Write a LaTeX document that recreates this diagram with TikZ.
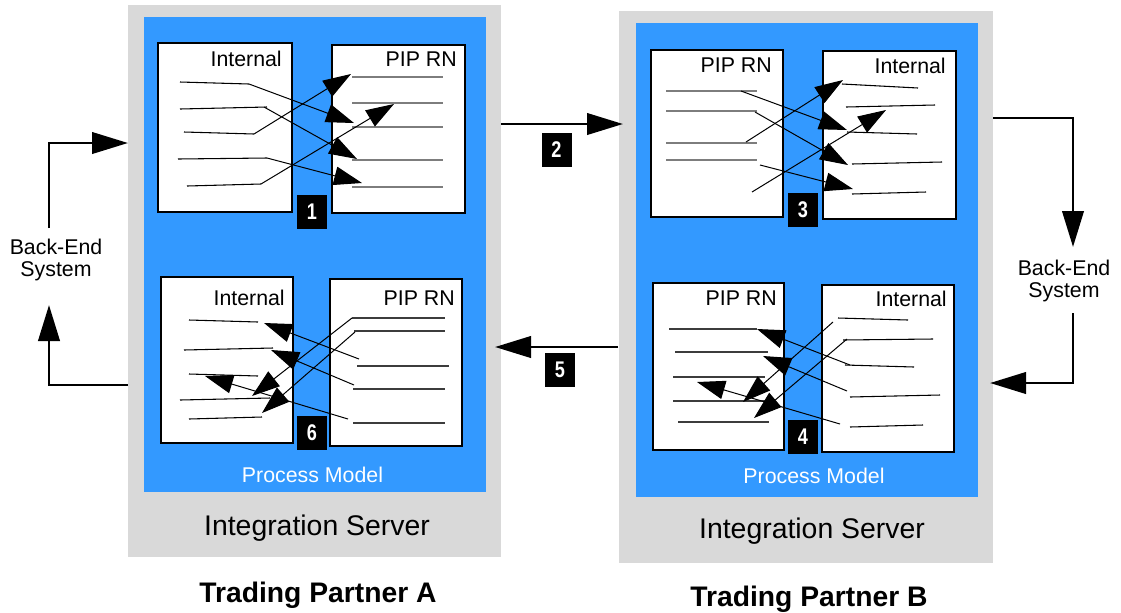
\documentclass[tikz,border=0pt]{standalone}
\usepackage{fontspec}
\setmainfont{Liberation Sans}
\newfontfamily\numfont[FakeStretch=0.8]{Liberation Sans}
\usetikzlibrary{arrows.meta}
\definecolor{srvgray}{RGB}{217,217,217}
\definecolor{pmblue}{RGB}{51,153,255}
\definecolor{pipgray}{RGB}{125,125,125}
\definecolor{darkline}{RGB}{60,60,60}
\tikzset{
  server/.style={fill=srvgray},
  model/.style={fill=pmblue},
  doc/.style={fill=white, draw=black, line width=1.5pt},
  dl/.style={line width=0.8pt, black},
  pl/.style={line width=0.8pt, pipgray},
  ql/.style={line width=0.8pt, darkline},
  arr/.style={line width=0.75pt, -{Triangle[length=21pt,width=14pt]}},
  big/.style={line width=2.2pt, -{Triangle[length=27pt,width=16pt]}},
  num/.style={fill=black, text=white, minimum width=22.5pt, minimum height=25.5pt, inner sep=0pt,
              font=\numfont\bfseries\fontsize{17}{17}\selectfont},
  lbl/.style={inner sep=0pt, anchor=base east, font=\fontsize{16}{18}\selectfont},
  pm/.style={inner sep=0pt, anchor=base, text=white, font=\fontsize{16}{18}\selectfont},
  srvlbl/.style={inner sep=0pt, anchor=base, font=\fontsize{21.3}{24}\selectfont},
  tp/.style={inner sep=0pt, anchor=base, font=\bfseries\fontsize{21.2}{24}\selectfont},
  be/.style={inner sep=0pt, align=center, font=\fontsize{16}{16.5}\selectfont}
}
\begin{document}
\begin{tikzpicture}[x=0.75pt,y=-0.75pt]
\useasboundingbox (0,0) rectangle (1121,612);
% servers and process models
\path[server] (128,5) rectangle (501,557);
\path[server] (619,11) rectangle (993,563);
\path[model] (144,17) rectangle (486,492);
\path[model] (636,23) rectangle (978,497);
\node[srvlbl] (isA) at (317,535) {Integration Server};
\node[srvlbl] (isB) at (812,538) {Integration Server};
\node[pm] (pmA) at (312.5,482) {Process Model};
\node[pm] (pmB) at (814,483) {Process Model};
\node[tp] (tpA) at (318,602) {Trading Partner A};
\node[tp] (tpB) at (809,606) {Trading Partner B};

% ---------- A1 ----------
\draw[doc] (158,43) rectangle (292,212);
\draw[doc] (332,45) rectangle (465,213);
\node[lbl] (a1int) at (282,66) {Internal};
\node[lbl] (a1pip) at (457,66) {PIP RN};
\draw[dl] (180,82) coordinate (a1l1s) -- (249,84) coordinate (a1l1e);
\draw[dl] (180,109) coordinate (a1l2s) -- (267,107) coordinate (a1l2e);
\draw[dl] (184,132) coordinate (a1l3s) -- (254,134) coordinate (a1l3e);
\draw[dl] (178,159) coordinate (a1l4s) -- (267,158) coordinate (a1l4e);
\draw[dl] (187,186) coordinate (a1l5s) -- (261,184) coordinate (a1l5e);
\foreach \y in {77,103,127,160,187} \draw[pl] (352,\y) -- (443,\y);
\coordinate (a1t1) at (354,123);
\coordinate (a1t2) at (357,159);
\coordinate (a1t3) at (351,74);
\coordinate (a1t4) at (362,183);
\coordinate (a1t5) at (394,104);
\coordinate (a1s2) at (264,107);
\draw[arr] (a1l1e) -- (a1t1);
\draw[arr] (a1s2) -- (a1t2);
\draw[arr] (a1l3e) -- (a1t3);
\draw[arr] (a1l4e) -- (a1t4);
\draw[arr] (a1l5e) -- (a1t5);
\node[num] (n1) at (312,212) {1};

% ---------- B1 ----------
\draw[doc] (651,50) rectangle (783,217);
\draw[doc] (823,51) rectangle (956,219);
\node[lbl] (b1pip) at (772,72) {PIP RN};
\node[lbl] (b1int) at (946,73) {Internal};
\foreach \y in {91,111,143,160} \draw[pl] (666,\y) -- (757,\y);
\draw[dl] (842,84) -- (918,88);
\draw[dl] (846,107) -- (935,105);
\draw[dl] (847,132) -- (917,134);
\draw[dl] (852,164) -- (942,162);
\draw[dl] (852,194) -- (926,192);
\coordinate (b1s1) at (741,91);  \coordinate (b1t1) at (847,130);
\coordinate (b1s2) at (755,112); \coordinate (b1t2) at (848,165);
\coordinate (b1s3) at (746,142); \coordinate (b1t3) at (843,80);
\coordinate (b1s4) at (760,165); \coordinate (b1t4) at (853,189);
\coordinate (b1s5) at (752,192); \coordinate (b1t5) at (886,110);
\draw[arr] (b1s1) -- (b1t1);
\draw[arr] (b1s2) -- (b1t2);
\draw[arr] (b1s3) -- (b1t3);
\draw[arr] (b1s4) -- (b1t4);
\draw[arr] (b1s5) -- (b1t5);
\node[num] (n3) at (803,210) {3};

% ---------- A2 ----------
\draw[doc] (161,277) rectangle (293,443);
\draw[doc] (330,279) rectangle (462,446);
\node[lbl] (a2int) at (285,305) {Internal};
\node[lbl] (a2pip) at (455,305) {PIP RN};
\draw[dl] (189,320) -- (258,322);
\draw[dl] (184,350) -- (273,348);
\draw[dl] (189,374) -- (258,376);
\draw[dl] (180,400) -- (270,398);
\draw[dl] (189,419) -- (262,417);
\draw[ql] (352,318) -- (445,318);
\draw[ql] (354,331) -- (445,331);
\draw[ql] (357,366) -- (449,366);
\draw[ql] (353,389) -- (445,389);
\draw[ql] (353,423) -- (445,423);
\coordinate (a2s1) at (359,359); \coordinate (a2t1) at (264,323);
\coordinate (a2s2) at (354,385); \coordinate (a2t2) at (271,350);
\coordinate (a2s3) at (352,318); \coordinate (a2t3) at (252,396);
\coordinate (a2s4) at (355,332); \coordinate (a2t4) at (262,413);
\coordinate (a2s5) at (348,419); \coordinate (a2t5) at (205,376);
\draw[arr] (a2s1) -- (a2t1);
\draw[arr] (a2s2) -- (a2t2);
\draw[arr] (a2s3) -- (a2t3);
\draw[arr] (a2s4) -- (a2t4);
\draw[arr] (a2s5) -- (a2t5);
\node[num] (n6) at (312,433) {6};

% ---------- B2 ----------
\draw[doc] (653,283) rectangle (784,450);
\draw[doc] (822,285) rectangle (954,452);
\node[lbl] (b2pip) at (777,305) {PIP RN};
\node[lbl] (b2int) at (947,306) {Internal};
\draw[ql] (669,329) -- (757,329);
\draw[ql] (675,352) -- (768,352);
\draw[ql] (673,377) -- (765,377);
\draw[ql] (673,401) -- (765,401);
\draw[ql] (678,422) -- (769,422);
\draw[dl] (838,318) -- (908,320);
\draw[dl] (843,340) -- (933,339);
\draw[dl] (845,365) -- (914,367);
\draw[dl] (850,397) -- (940,395);
\draw[dl] (850,427) -- (923,425);
\coordinate (b2s1) at (850,365); \coordinate (b2t1) at (757,329);
\coordinate (b2s2) at (847,391); \coordinate (b2t2) at (763,356);
\coordinate (b2s3) at (833,322); \coordinate (b2t3) at (743,402);
\coordinate (b2s4) at (847,339); \coordinate (b2t4) at (754,418);
\coordinate (b2s5) at (840,424); \coordinate (b2t5) at (697,382);
\draw[arr] (b2s1) -- (b2t1);
\draw[arr] (b2s2) -- (b2t2);
\draw[arr] (b2s3) -- (b2t3);
\draw[arr] (b2s4) -- (b2t4);
\draw[arr] (b2s5) -- (b2t5);
\node[num] (n4) at (803,437) {4};

% ---------- transfers between partners ----------
\coordinate (aOut) at (501,124);
\coordinate (bIn) at (623,124);
\coordinate (bOut) at (618,347);
\coordinate (aIn) at (495,347);
\draw[big] (aOut) -- (bIn);
\draw[big] (bOut) -- (aIn);
\node[num] (n2) at (556.5,149.5) {2};
\node[num] (n5) at (560,369.5) {5};

% ---------- back-end systems ----------
\node[be] (beA) at (56,260) {Back-End\\System};
\node[be] (beB) at (1064,281) {Back-End\\System};
\coordinate (beAtop) at (49,228);
\coordinate (beAbot) at (49,305);
\coordinate (srvAin) at (128,143);
\coordinate (srvAout) at (128,385);
\draw[big] (beAtop) |- (srvAin);
\draw[big] (srvAout) -| (beAbot);
\coordinate (srvBout) at (993,118);
\coordinate (beBtop) at (1073,247);
\coordinate (beBbot) at (1073,313);
\coordinate (srvBin) at (990,383);
\draw[big] (srvBout) -| (beBtop);
\draw[big] (beBbot) |- (srvBin);
\end{tikzpicture}
\end{document}
